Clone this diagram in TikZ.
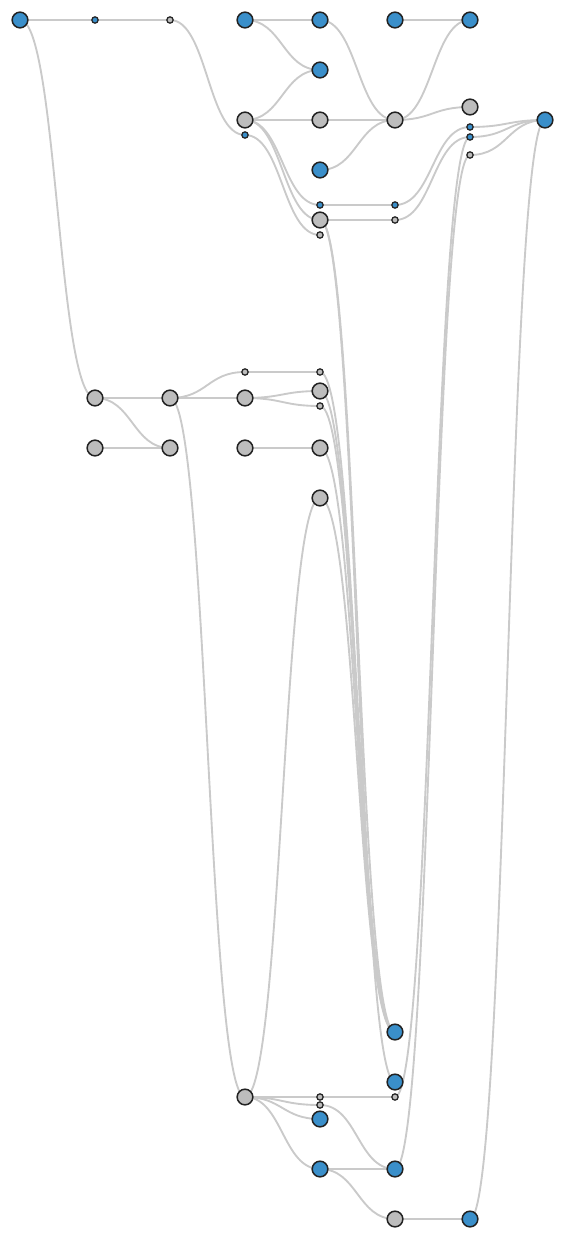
\documentclass[tikz,border=0pt]{standalone}
\usetikzlibrary{calc, backgrounds}
\definecolor{ink}{HTML}{222222}
\definecolor{wire}{HTML}{CACACA}
\definecolor{leafblue}{HTML}{3A8FCA}
\definecolor{stem}{HTML}{BDBDBD}

\begin{document}
\begin{tikzpicture}[
    x=0.03cm, y=-0.03cm,
    link/.style={
      draw=wire,
      line width=1.6pt,
      line cap=round,
    },
    dot/.style={
      circle,
      draw=ink,
      fill=#1,
      line width=1.3pt,
      minimum size=0.47cm,
      inner sep=0pt,
    },
    pip/.style={
      circle,
      draw=ink,
      fill=#1,
      line width=1.05pt,
      minimum size=0.19cm,
      inner sep=0pt,
    },
  ]

  \useasboundingbox (0,0) rectangle (565,1240);
  \def\H{37.5}

  % Top block
  \node[dot=leafblue] (A1) at (20,20) {};
  \node[pip=leafblue] (B1) at (95,20) {};
  \node[pip=stem] (C1) at (170,20) {};
  \node[dot=leafblue] (D1) at (245,20) {};
  \node[dot=leafblue] (E1) at (320,20) {};
  \node[dot=leafblue] (F1) at (395,20) {};
  \node[dot=leafblue] (G1) at (470,20) {};
  \node[dot=leafblue] (E2) at (320,70) {};
  \node[dot=stem] (D2) at (245,120) {};
  \node[pip=leafblue] (D3) at (245,135) {};
  \node[dot=stem] (E3) at (320,120) {};
  \node[dot=stem] (F2) at (395,120) {};
  \node[dot=stem] (G2) at (470,107) {};
  \node[dot=leafblue] (H1) at (545,120) {};
  \node[pip=leafblue] (G3) at (470,127) {};
  \node[pip=leafblue] (G4) at (470,137) {};
  \node[pip=stem] (G5) at (470,155) {};
  \node[dot=leafblue] (E4) at (320,170) {};
  \node[pip=leafblue] (E5) at (320,205) {};
  \node[pip=leafblue] (F3) at (395,205) {};
  \node[dot=stem] (E6) at (320,220) {};
  \node[pip=stem] (F4) at (395,220) {};
  \node[pip=stem] (E7) at (320,235) {};

  % Middle block
  \node[pip=stem] (D4) at (245,372) {};
  \node[pip=stem] (E8) at (320,372) {};
  \node[dot=stem] (B2) at (95,398) {};
  \node[dot=stem] (C2) at (170,398) {};
  \node[dot=stem] (D5) at (245,398) {};
  \node[dot=stem] (E9) at (320,391) {};
  \node[pip=stem] (E10) at (320,406) {};
  \node[dot=stem] (B3) at (95,448) {};
  \node[dot=stem] (C3) at (170,448) {};
  \node[dot=stem] (D6) at (245,448) {};
  \node[dot=stem] (E11) at (320,448) {};
  \node[dot=stem] (E12) at (320,498) {};

  % Bottom block
  \node[dot=leafblue] (F5) at (395,1032) {};
  \node[dot=leafblue] (F6) at (395,1082) {};
  \node[dot=stem] (D7) at (245,1097) {};
  \node[pip=stem] (E13) at (320,1097) {};
  \node[pip=stem] (E14) at (320,1105) {};
  \node[pip=stem] (F7) at (395,1097) {};
  \node[dot=leafblue] (E15) at (320,1119) {};
  \node[dot=leafblue] (E16) at (320,1169) {};
  \node[dot=leafblue] (F8) at (395,1169) {};
  \node[dot=stem] (F9) at (395,1219) {};
  \node[dot=leafblue] (G6) at (470,1219) {};

  % Links
  \begin{pgfonlayer}{background}
    \foreach \a/\b in {A1/B1, B1/C1, C1/D3, A1/B2,
        D1/E1, D1/E2, D2/E2, D2/E3, D2/E5, D2/E6, D3/E7,
        E1/F2, E3/F2, E4/F2, E5/F3, E6/F4,
        F1/G1, F2/G1, F2/G2, F3/G3, F4/G4, F7/G4, F8/G5,
        G3/H1, G4/H1, G5/H1, G6/H1,
        B2/C2, B2/C3, B3/C3, C2/D4, C2/D5, C2/D7,
        D4/E8, D5/E9, D5/E10, D6/E11, D7/E12,
        E6/F5, E6/F6, E8/F5, E9/F5, E10/F5, E11/F5, E12/F5,
        D7/E13, D7/E14, D7/E15, D7/E16,
        E13/F7, E14/F8, E16/F8, E16/F9, F9/G6} {
      \draw[link] (\a.center) .. controls ($(\a.center)+(\H,0)$)
        and ($(\b.center)-(\H,0)$) .. (\b.center);
    }
  \end{pgfonlayer}

\end{tikzpicture}
\end{document}
